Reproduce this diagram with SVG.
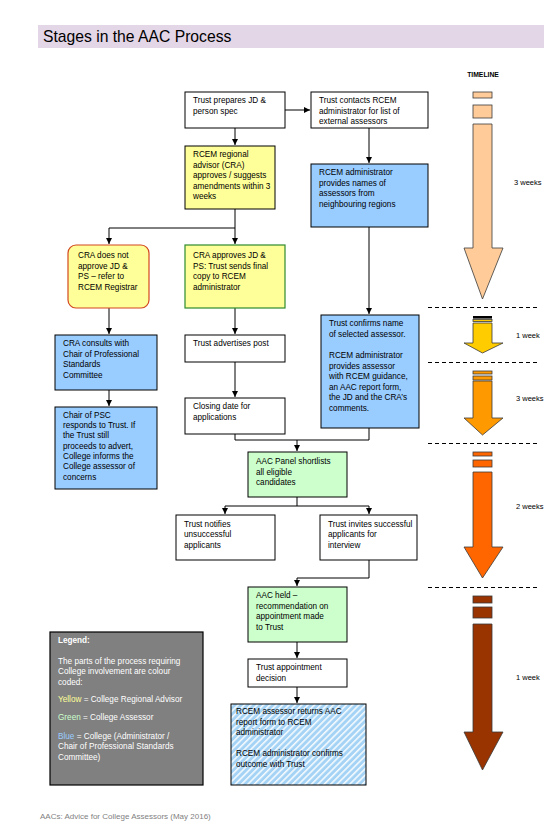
<svg xmlns="http://www.w3.org/2000/svg" width="550" height="826" viewBox="0 0 550 826">
<style>
.t{font-family:"Liberation Sans",Arial,sans-serif;font-size:8.2px;fill:#000}
.box{stroke:#000;stroke-width:1}
.w{fill:#fff}
.y{fill:#FFFF99}
.b{fill:#99CCFF}
.g{fill:#CCFFCC}
.c{fill:none;stroke:#000;stroke-width:1}
.dash{stroke:#000;stroke-width:1;stroke-dasharray:4,3}
.lbl{font-family:"Liberation Sans",Arial,sans-serif;font-size:7.5px;fill:#000}
.ar{stroke:#3a3a3a;stroke-width:0.8}
.lg{font-family:"Liberation Sans",Arial,sans-serif;font-size:8.2px;fill:#fff}
</style>
<defs>
<marker id="ah" markerUnits="userSpaceOnUse" markerWidth="7" markerHeight="7" refX="6" refY="3" orient="auto">
<path d="M0,0 L6,3 L0,6 z" fill="#000"/>
</marker>
<pattern id="hatch" patternUnits="userSpaceOnUse" width="4.5" height="4.5" patternTransform="rotate(45)">
<rect width="4.5" height="4.5" fill="#A5D3F5"/>
<line x1="0.8" y1="0" x2="0.8" y2="4.5" stroke="#fff" stroke-width="1.4"/>
</pattern>
</defs>
<rect width="550" height="826" fill="#fff"/>

<g id="title">
<rect x="38" y="25" width="506" height="23" fill="#E3D6E7"/>
<text x="43" y="42" font-family="Liberation Sans,Arial,sans-serif" font-size="15.7">Stages in the AAC Process</text>
</g>

<g id="connectors">
<line class="c" x1="285" y1="110" x2="310" y2="110" marker-end="url(#ah)"/>
<line class="c" x1="235" y1="128" x2="235" y2="145" marker-end="url(#ah)"/>
<line class="c" x1="369" y1="128" x2="369" y2="163" marker-end="url(#ah)"/>
<polyline class="c" points="235,209 235,228 109,228 109,244" marker-end="url(#ah)"/>
<line class="c" x1="235" y1="228" x2="235" y2="244" marker-end="url(#ah)"/>
<line class="c" x1="109" y1="308" x2="109" y2="334" marker-end="url(#ah)"/>
<line class="c" x1="235" y1="308" x2="235" y2="334" marker-end="url(#ah)"/>
<line class="c" x1="369" y1="227" x2="369" y2="314" marker-end="url(#ah)"/>
<line class="c" x1="109" y1="390" x2="109" y2="406" marker-end="url(#ah)"/>
<line class="c" x1="235" y1="362" x2="235" y2="397" marker-end="url(#ah)"/>
<polyline class="c" points="235,434 235,440 297,440 297,451" marker-end="url(#ah)"/>
<polyline class="c" points="369,428 369,440 297,440"/>
<polyline class="c" points="297,497 297,506 225,506 225,514" marker-end="url(#ah)"/>
<polyline class="c" points="297,506 369,506 369,514" marker-end="url(#ah)"/>
<polyline class="c" points="369,560 369,578 297,578 297,586" marker-end="url(#ah)"/>
<line class="c" x1="297" y1="642" x2="297" y2="658" marker-end="url(#ah)"/>
<line class="c" x1="297" y1="687" x2="297" y2="703" marker-end="url(#ah)"/>
</g>

<g id="n-prepare">
<rect class="box w" x="185" y="92" width="100" height="36"/>
<text class="t" x="193" y="103">Trust prepares JD &amp;</text>
<text class="t" x="193" y="114">person spec</text>
</g>
<g id="n-contacts">
<rect class="box w" x="311" y="92" width="117" height="36"/>
<text class="t" x="319" y="103">Trust contacts RCEM</text>
<text class="t" x="319" y="114">administrator for list of</text>
<text class="t" x="319" y="124">external assessors</text>
</g>
<g id="n-cra">
<rect class="box y" x="185" y="146" width="90" height="63"/>
<text class="t" x="193" y="157">RCEM regional</text>
<text class="t" x="193" y="168">advisor (CRA)</text>
<text class="t" x="193" y="178">approves / suggests</text>
<text class="t" x="193" y="189">amendments within 3</text>
<text class="t" x="193" y="199">weeks</text>
</g>
<g id="n-admin-names">
<rect class="box b" x="311" y="164" width="117" height="63"/>
<text class="t" x="319" y="175">RCEM administrator</text>
<text class="t" x="319" y="186">provides names of</text>
<text class="t" x="319" y="196">assessors from</text>
<text class="t" x="319" y="207">neighbouring regions</text>
</g>
<g id="n-not-approve">
<rect x="68" y="245" width="81" height="63" rx="8" fill="#FFFF99" stroke="#D2461E" stroke-width="1.2"/>
<text class="t" x="78" y="258">CRA does not</text>
<text class="t" x="78" y="269">approve JD &amp;</text>
<text class="t" x="78" y="279">PS – refer to</text>
<text class="t" x="78" y="290">RCEM Registrar</text>
</g>
<g id="n-approves">
<rect x="185" y="245" width="100" height="63" fill="#FFFF99" stroke="#2E8B2E" stroke-width="1.2"/>
<text class="t" x="193" y="258">CRA approves JD &amp;</text>
<text class="t" x="193" y="269">PS: Trust sends final</text>
<text class="t" x="193" y="279">copy to RCEM</text>
<text class="t" x="193" y="290">administrator</text>
</g>
<g id="n-consults">
<rect class="box b" x="55" y="335" width="102" height="55"/>
<text class="t" x="63" y="346">CRA consults with</text>
<text class="t" x="63" y="357">Chair of Professional</text>
<text class="t" x="63" y="367">Standards</text>
<text class="t" x="63" y="378">Committee</text>
</g>
<g id="n-advertises">
<rect class="box w" x="185" y="335" width="100" height="27"/>
<text class="t" x="193" y="346">Trust advertises post</text>
</g>
<g id="n-confirms">
<rect class="box b" x="321" y="315" width="98" height="113"/>
<text class="t" x="329" y="326">Trust confirms name</text>
<text class="t" x="329" y="337">of selected assessor.</text>
<text class="t" x="329" y="358">RCEM administrator</text>
<text class="t" x="329" y="369">provides assessor</text>
<text class="t" x="329" y="379">with RCEM guidance,</text>
<text class="t" x="329" y="390">an AAC report form,</text>
<text class="t" x="329" y="400">the JD and the CRA’s</text>
<text class="t" x="329" y="411">comments.</text>
</g>
<g id="n-psc">
<rect class="box b" x="55" y="407" width="102" height="82"/>
<text class="t" x="63" y="418">Chair of PSC</text>
<text class="t" x="63" y="428">responds to Trust. If</text>
<text class="t" x="63" y="438">the Trust still</text>
<text class="t" x="63" y="449">proceeds to advert,</text>
<text class="t" x="63" y="459">College informs the</text>
<text class="t" x="63" y="469">College assessor of</text>
<text class="t" x="63" y="480">concerns</text>
</g>
<g id="n-closing">
<rect class="box w" x="185" y="398" width="100" height="36"/>
<text class="t" x="193" y="409">Closing date for</text>
<text class="t" x="193" y="420">applications</text>
</g>
<g id="n-shortlist">
<rect class="box g" x="248" y="452" width="99" height="45"/>
<text class="t" x="256" y="464">AAC Panel shortlists</text>
<text class="t" x="256" y="475">all eligible</text>
<text class="t" x="256" y="485">candidates</text>
</g>
<g id="n-notifies">
<rect class="box w" x="176" y="515" width="99" height="45"/>
<text class="t" x="184" y="527">Trust notifies</text>
<text class="t" x="184" y="537">unsuccessful</text>
<text class="t" x="184" y="548">applicants</text>
</g>
<g id="n-invites">
<rect class="box w" x="320" y="515" width="97" height="45"/>
<text class="t" x="328" y="527">Trust invites successful</text>
<text class="t" x="328" y="537">applicants for</text>
<text class="t" x="328" y="548">interview</text>
</g>
<g id="n-held">
<rect class="box g" x="248" y="587" width="99" height="55"/>
<text class="t" x="256" y="598">AAC held –</text>
<text class="t" x="256" y="609">recommendation on</text>
<text class="t" x="256" y="619">appointment made</text>
<text class="t" x="256" y="630">to Trust</text>
</g>
<g id="n-decision">
<rect class="box w" x="248" y="659" width="99" height="28"/>
<text class="t" x="256" y="670">Trust appointment</text>
<text class="t" x="256" y="681">decision</text>
</g>
<g id="n-returns">
<rect x="231" y="704" width="135" height="81" fill="url(#hatch)" stroke="#000" stroke-width="1"/>
<text class="t" x="236" y="714">RCEM assessor returns AAC</text>
<text class="t" x="236" y="725">report form to RCEM</text>
<text class="t" x="236" y="735">administrator</text>
<text class="t" x="236" y="756">RCEM administrator confirms</text>
<text class="t" x="236" y="767">outcome with Trust</text>
</g>

<g id="legend">
<rect x="50" y="632" width="153" height="153" fill="#808080" stroke="#000" stroke-width="1.2"/>
<text class="lg" x="58" y="643" font-weight="bold">Legend:</text>
<text class="lg" x="58" y="664">The parts of the process requiring</text>
<text class="lg" x="58" y="674">College involvement are colour</text>
<text class="lg" x="58" y="685">coded:</text>
<text class="lg" x="58" y="702"><tspan fill="#FFFF99">Yellow</tspan> = College Regional Advisor</text>
<text class="lg" x="58" y="720"><tspan fill="#CCFFCC">Green</tspan> = College Assessor</text>
<text class="lg" x="58" y="739"><tspan fill="#99CCFF">Blue</tspan> = College (Administrator /</text>
<text class="lg" x="58" y="749">Chair of Professional Standards</text>
<text class="lg" x="58" y="760">Committee)</text>
</g>

<g id="timeline">
<text x="483" y="77" text-anchor="middle" font-family="Liberation Sans,Arial,sans-serif" font-size="6.8" font-weight="bold">TIMELINE</text>
<line class="dash" x1="428" y1="307.5" x2="537" y2="307.5"/>
<line class="dash" x1="428" y1="362.5" x2="537" y2="362.5"/>
<line class="dash" x1="428" y1="443.5" x2="537" y2="443.5"/>
<line class="dash" x1="428" y1="587.5" x2="537" y2="587.5"/>

<g id="tl-1" fill="#FFCC99">
<rect class="ar" x="473" y="92" width="19" height="6"/>
<rect class="ar" x="473" y="105" width="19" height="13"/>
<path class="ar" d="M473,124 H492 V248 H503 L482.5,299 L464,248 H473 Z"/>
<text class="lbl" x="514" y="185">3 weeks</text>
</g>
<g id="tl-2" fill="#FFCC00">
<rect x="473" y="316" width="19" height="2.6" fill="#000"/>
<rect class="ar" x="473" y="319.5" width="19" height="2"/>
<path class="ar" d="M473,323 H492 V343 H503 L482.5,353 L464,343 H473 Z"/>
<text class="lbl" x="516" y="338">1 week</text>
</g>
<g id="tl-3" fill="#FF9900">
<rect class="ar" x="473" y="371" width="19" height="3"/>
<rect class="ar" x="473" y="376" width="19" height="4"/>
<path class="ar" d="M473,381 H492 V418 H503 L482.5,435 L464,418 H473 Z"/>
<text class="lbl" x="516" y="401">3 weeks</text>
</g>
<g id="tl-4" fill="#FF6600">
<rect class="ar" x="473" y="452" width="19" height="4"/>
<rect class="ar" x="473" y="460" width="19" height="7"/>
<path class="ar" d="M473,472 H492 V547 H503 L482.5,578 L464,547 H473 Z"/>
<text class="lbl" x="516" y="509">2 weeks</text>
</g>
<g id="tl-5" fill="#993300">
<rect class="ar" x="473" y="596" width="19" height="7"/>
<rect class="ar" x="473" y="607" width="19" height="11"/>
<path class="ar" d="M473,624 H492 V732 H503 L482.5,770 L464,732 H473 Z"/>
<text class="lbl" x="516" y="680">1 week</text>
</g>
</g>

<text x="40" y="819" font-family="Liberation Sans,Arial,sans-serif" font-size="8" fill="#7f7f7f">AACs: Advice for College Assessors (May 2016)</text>
</svg>
